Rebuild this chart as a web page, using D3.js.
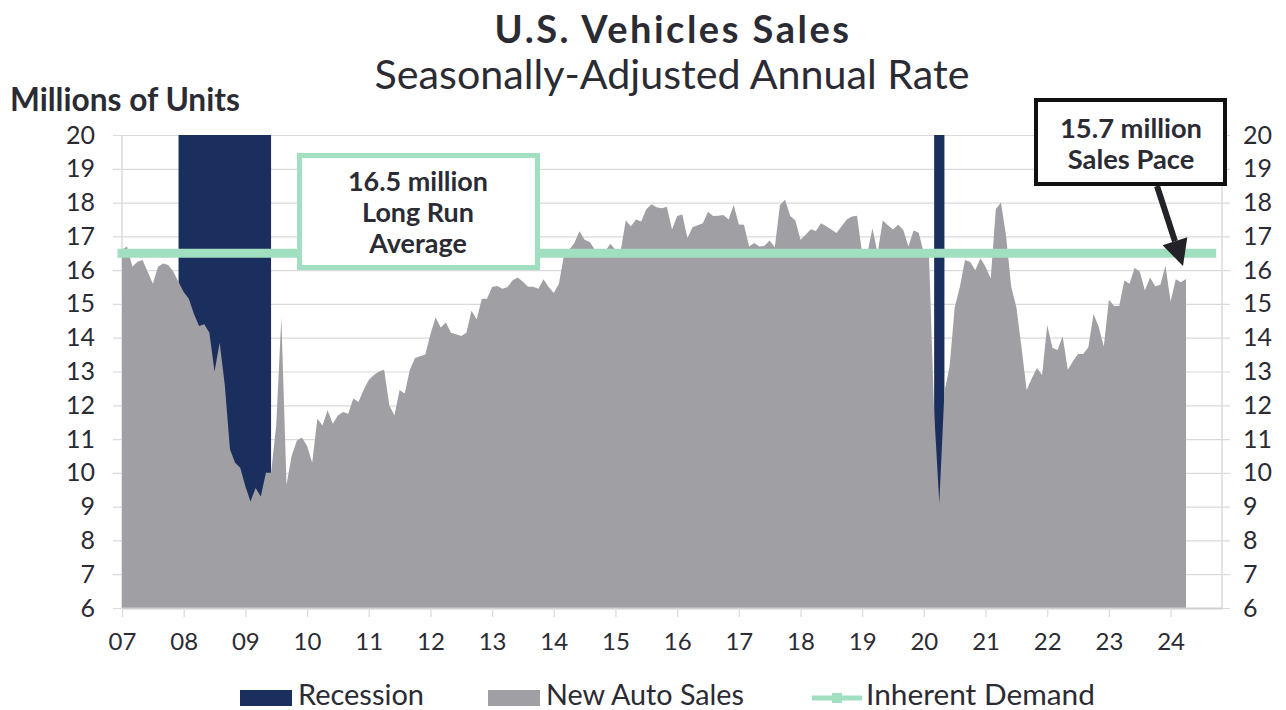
<!DOCTYPE html>
<html>
<head>
<meta charset="utf-8">
<script src="https://cdn.jsdelivr.net/npm/d3@7"></script>
<style>
  body { margin: 0; background: #fff; }
  text { font-family: Lato, "DejaVu Sans", sans-serif; fill: #2b2b33; }
</style>
</head>
<body>
<div id="chart"></div>
<script>
// chart data
var firstMonth = "2007-01";
var axisEndMonth = "2024-11";
var yearLabels = ["07","08","09","10","11","12","13","14","15","16","17","18","19","20","21","22","23","24"];
var yTicks = [6,7,8,9,10,11,12,13,14,15,16,17,18,19,20];

// New Auto Sales, SAAR millions, monthly from Jan 2007
var sales = [
  16.6, 16.7, 16.1, 16.25, 16.3, 15.95, 15.6, 16.1, 16.2, 16.15, 15.95, 15.65,
  15.35, 15.15, 14.7, 14.35, 14.4, 14.15, 13.0, 13.85, 12.6, 10.7, 10.3, 10.15,
  9.6, 9.15, 9.55, 9.3, 10.0, 10.0, 11.4, 14.6, 9.65, 10.5, 10.95, 11.05,
  10.8, 10.3, 11.6, 11.4, 11.85, 11.45, 11.7, 11.8, 11.75, 12.2, 12.1, 12.45,
  12.75, 12.9, 13.0, 13.05, 12.0, 11.7, 12.45, 12.35, 13.05, 13.4, 13.45, 13.5,
  14.1, 14.6, 14.3, 14.45, 14.15, 14.1, 14.05, 14.15, 14.8, 14.55, 15.15, 15.15,
  15.5, 15.53, 15.45, 15.5, 15.7, 15.78, 15.66, 15.51, 15.51, 15.45, 15.73, 15.5,
  15.32, 15.6, 16.45, 16.6, 16.8, 17.15, 16.9, 16.83, 16.6, 16.5, 16.55, 16.78,
  16.6, 16.55, 17.47, 17.3, 17.5, 17.44, 17.8, 17.95, 17.86, 17.83, 17.88, 17.2,
  17.6, 17.65, 16.95, 17.27, 17.33, 17.39, 17.73, 17.6, 17.61, 17.63, 17.5, 17.93,
  17.35, 17.34, 16.7, 16.8, 16.7, 16.72, 16.88, 16.68, 17.93, 18.08, 17.6, 17.47,
  16.9, 17.05, 17.21, 17.16, 17.39, 17.3, 17.2, 17.1, 17.3, 17.5, 17.59, 17.61,
  16.5, 16.5, 17.24, 16.5, 17.47, 17.33, 17.2, 17.34, 17.19, 16.7, 17.17, 17.11,
  16.5, 16.4, 11.8, 9.1, 12.4, 13.15, 14.9, 15.5, 16.3, 16.25, 16.0, 16.35,
  16.1, 15.75, 17.8, 18.0, 17.0, 15.5, 14.9, 13.7, 12.45, 12.8, 13.1, 12.9,
  14.38, 13.7, 13.64, 14.04, 13.05, 13.3, 13.52, 13.52, 13.72, 14.7, 14.33, 13.74,
  15.12, 14.94, 14.94, 15.69, 15.6, 16.06, 15.96, 15.4, 15.78, 15.52, 15.57, 16.13,
  15.07, 15.73, 15.64, 15.74
];

// Inherent Demand (long run average), start and end month
var inherentDemand = [
  { month: "2007-01", value: 16.5 },
  { month: "2024-09", value: 16.5 }
];

// recessions, first and last month
var recessions = [
  ["2007-12", "2009-05"],
  ["2020-03", "2020-04"]
];

var legendNames = ["Recession", "New Auto Sales", "Inherent Demand"];

// colours
var navy = "#1b2f5e";
var grey = "#a09fa4";
var green = "#a0dfc0";
var gridCol = "#dadada";

var width = 1286;
var height = 710;
var plotLeft = 122, plotRight = 1222, plotTop = 135, plotBottom = 608;

function monthIndex(s) {
  var p = s.split("-"), f = firstMonth.split("-");
  return (+p[0] - +f[0]) * 12 + (+p[1] - +f[1]);
}

var svg = d3.select("#chart")
  .append("svg")
  .attr("width", width)
  .attr("height", height);

var xScale = d3.scaleLinear()
  .domain([0, monthIndex(axisEndMonth)])
  .range([plotLeft, plotRight]);
var yScale = d3.scaleLinear()
  .domain([6, 20])
  .range([plotBottom, plotTop]);

// shrink/grow a text so it spans the width it has in the picture
function fitText(sel, target) {
  var len = sel.node().getComputedTextLength();
  var fs = parseFloat(sel.attr("font-size"));
  var nfs = fs * target / len;
  sel.attr("font-size", nfs.toFixed(2));
  return nfs;
}

// gridlines
svg.append("g")
  .selectAll("line")
  .data(yTicks)
  .enter()
  .append("line")
  .attr("x1", plotLeft - 9)
  .attr("x2", plotRight + 8)
  .attr("y1", function(d) { return yScale(d) + 0.5; })
  .attr("y2", function(d) { return yScale(d) + 0.5; })
  .attr("stroke", gridCol)
  .attr("stroke-width", 1.2);

// plot side borders
svg.append("line")
  .attr("x1", plotLeft).attr("x2", plotLeft)
  .attr("y1", plotTop).attr("y2", plotBottom)
  .attr("stroke", gridCol).attr("stroke-width", 1.5);
svg.append("line")
  .attr("x1", plotRight).attr("x2", plotRight)
  .attr("y1", plotTop).attr("y2", plotBottom)
  .attr("stroke", gridCol).attr("stroke-width", 1.5);

// recession bars
svg.append("g")
  .selectAll("rect")
  .data(recessions)
  .enter()
  .append("rect")
  .attr("x", function(d) { return xScale(monthIndex(d[0])); })
  .attr("width", function(d) { return xScale(monthIndex(d[1]) + 1) - xScale(monthIndex(d[0])); })
  .attr("y", yScale(20))
  .attr("height", yScale(6) - yScale(20))
  .attr("fill", navy);

// sales area
var area = d3.area()
  .x(function(d, i) { return xScale(i); })
  .y0(yScale(6))
  .y1(function(d) { return yScale(d); });

svg.append("path")
  .datum(sales)
  .attr("d", area)
  .attr("fill", grey);

// x axis
var xAxis = d3.axisBottom(xScale)
  .tickValues(yearLabels.map(function(d, i) { return i * 12; }))
  .tickFormat(function(d) { return yearLabels[d / 12]; })
  .tickSizeInner(9)
  .tickSizeOuter(0)
  .tickPadding(16);

var gx = svg.append("g")
  .attr("transform", "translate(0," + plotBottom + ")")
  .call(xAxis);
gx.select(".domain").attr("stroke", "#d0d0d0").attr("stroke-width", 2);
gx.selectAll(".tick line").attr("stroke", gridCol).attr("stroke-width", 1.2);
gx.selectAll("text")
  .attr("font-size", 24)
  .attr("fill", "#2b2b33")
  .style("font-family", "Lato, 'DejaVu Sans', sans-serif");

// y axes (left and right)
var yAxisL = d3.axisLeft(yScale).tickValues(yTicks).tickSize(0).tickPadding(27);
var yAxisR = d3.axisRight(yScale).tickValues(yTicks).tickSize(0).tickPadding(21);

var gyl = svg.append("g")
  .attr("transform", "translate(" + plotLeft + ",0)")
  .call(yAxisL);
var gyr = svg.append("g")
  .attr("transform", "translate(" + plotRight + ",0)")
  .call(yAxisR);
[gyl, gyr].forEach(function(g) {
  g.select(".domain").remove();
  g.selectAll("text")
    .attr("font-size", 25)
    .attr("fill", "#2b2b33")
    .style("font-family", "Lato, 'DejaVu Sans', sans-serif");
});

// inherent demand line
var line = d3.line()
  .x(function(d) { return xScale(monthIndex(d.month)); })
  .y(function(d) { return yScale(d.value); });

svg.append("path")
  .datum(inherentDemand)
  .attr("d", line)
  .attr("fill", "none")
  .attr("stroke", green)
  .attr("stroke-width", 9)
  .attr("stroke-linecap", "square");

// titles
svg.append("text")
  .attr("x", 673).attr("y", 43)
  .attr("text-anchor", "middle")
  .attr("font-size", 38)
  .attr("font-weight", "bold")
  .attr("letter-spacing", 2.5)
  .text("U.S. Vehicles Sales");

var t2 = svg.append("text")
  .attr("x", 672).attr("y", 89)
  .attr("text-anchor", "middle")
  .attr("font-size", 33)
  .text("Seasonally-Adjusted Annual Rate");
fitText(t2, 595);

var t3 = svg.append("text")
  .attr("x", 10).attr("y", 111)
  .attr("font-size", 26)
  .attr("font-weight", "bold")
  .text("Millions of Units");
fitText(t3, 230);

// long run average box
svg.append("rect")
  .attr("x", 299.5).attr("y", 155.5)
  .attr("width", 238).attr("height", 112)
  .attr("fill", "#fff")
  .attr("stroke", green)
  .attr("stroke-width", 5);

var boxA = ["16.5 million", "Long Run", "Average"];
var boxAText = svg.append("g")
  .selectAll("text")
  .data(boxA)
  .enter()
  .append("text")
  .attr("x", 418)
  .attr("y", function(d, i) { return 191 + i * 31; })
  .attr("text-anchor", "middle")
  .attr("font-size", 25)
  .attr("font-weight", "bold")
  .attr("fill", "#111")
  .text(function(d) { return d; });
var fsA = fitText(d3.select(boxAText.nodes()[0]), 140);
boxAText.attr("font-size", fsA.toFixed(2));

// sales pace box and arrow
svg.append("rect")
  .attr("x", 1036).attr("y", 100)
  .attr("width", 189).attr("height", 84)
  .attr("fill", "#fff")
  .attr("stroke", "#111")
  .attr("stroke-width", 4);

var boxB = ["15.7 million", "Sales Pace"];
var boxBText = svg.append("g")
  .selectAll("text")
  .data(boxB)
  .enter()
  .append("text")
  .attr("x", 1131)
  .attr("y", function(d, i) { return 138 + i * 31; })
  .attr("text-anchor", "middle")
  .attr("font-size", 25)
  .attr("font-weight", "bold")
  .attr("fill", "#111")
  .text(function(d) { return d; });
var fsB = fitText(d3.select(boxBText.nodes()[0]), 142);
boxBText.attr("font-size", fsB.toFixed(2));

var tip = [1183, 266], tail = [1157, 186];
var dx = tip[0] - tail[0], dy = tip[1] - tail[1];
var dl = Math.sqrt(dx * dx + dy * dy);
var ux = dx / dl, uy = dy / dl;
var base = [tip[0] - 26 * ux, tip[1] - 26 * uy];
svg.append("line")
  .attr("x1", tail[0]).attr("y1", tail[1])
  .attr("x2", base[0]).attr("y2", base[1])
  .attr("stroke", "#222228")
  .attr("stroke-width", 6);
svg.append("path")
  .attr("d", "M" + tip + "L" + [base[0] - 13 * uy, base[1] + 13 * ux] +
    "L" + [base[0] + 13 * uy, base[1] - 13 * ux] + "Z")
  .attr("fill", "#222228");

// legend
var legend = svg.append("g");
legend.append("rect")
  .attr("x", 240).attr("y", 690).attr("width", 52).attr("height", 16)
  .attr("fill", navy);
legend.append("rect")
  .attr("x", 488).attr("y", 690).attr("width", 52).attr("height", 16)
  .attr("fill", grey);
legend.append("line")
  .attr("x1", 812).attr("x2", 862).attr("y1", 698).attr("y2", 698)
  .attr("stroke", green).attr("stroke-width", 5);
legend.append("rect")
  .attr("x", 832).attr("y", 693).attr("width", 10).attr("height", 10)
  .attr("fill", green);

var legX = [298, 546, 866];
var legW = [126, 198, 229];
legendNames.forEach(function(name, i) {
  var t = legend.append("text")
    .attr("x", legX[i]).attr("y", 705)
    .attr("font-size", 26)
    .text(name);
  fitText(t, legW[i]);
});
</script>
</body>
</html>
